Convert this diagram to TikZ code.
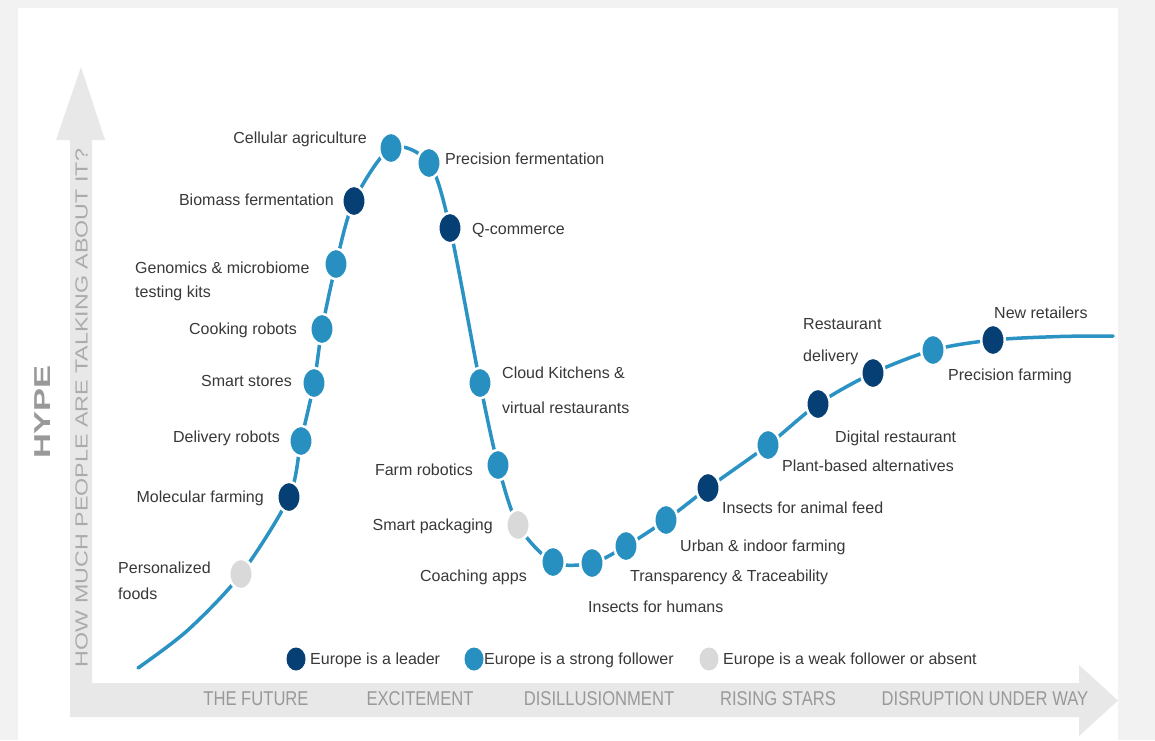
\documentclass[tikz,border=0pt]{standalone}
\usepackage{fontspec}
\setmainfont{Liberation Sans}
\newfontfamily\condfont[FakeStretch=0.83]{Liberation Sans}
\newfontfamily\widefont[FakeStretch=1.33]{Liberation Sans}
\newfontfamily\hypefont[FakeStretch=1.5]{Liberation Sans}
\usetikzlibrary{shapes.geometric}
\definecolor{bgout}{HTML}{F2F2F2}
\definecolor{axisgray}{HTML}{E8E8E8}
\definecolor{axtext}{HTML}{999999}
\definecolor{axtexttwo}{HTML}{ABABAB}
\definecolor{leadcol}{HTML}{053F73}
\definecolor{strongcol}{HTML}{2790C1}
\definecolor{weakcol}{HTML}{D9D9D9}
\definecolor{curvecol}{HTML}{2A93C4}
\definecolor{labelcol}{HTML}{383838}
\begin{document}
\begin{tikzpicture}[x=1pt,y=-1pt,
  hdot/.style={ellipse, minimum width=23.5pt, minimum height=30.5pt, inner sep=0pt, draw=white, line width=2.5pt},
  leaderdot/.style={hdot, fill=leadcol},
  strongdot/.style={hdot, fill=strongcol},
  weakdot/.style={hdot, fill=weakcol},
  legdot/.style={ellipse, minimum width=19pt, minimum height=23pt, inner sep=0pt},
  lbl/.style={font=\fontsize{16}{19}\selectfont, text=labelcol, inner sep=0pt, yshift=-3pt},
  lbltwo/.style={lbl, align=left, anchor=north west},
  phase/.style={font=\condfont\fontsize{20}{20}\selectfont, text=axtext, inner sep=0pt},
  curveline/.style={draw=curvecol, line width=3.5pt, line cap=round}
]
\useasboundingbox (0,0) rectangle (1155,740);
% background
\fill[bgout] (0,0) rectangle (1155,740);
\fill[white] (18,8) rectangle (1118,740);
% axes
\fill[axisgray] (70,717) -- (70,140) -- (56,140) -- (81,67) -- (105,140) -- (92,140)
  -- (92,683) -- (1079,683) -- (1079,665) -- (1118,700.5) -- (1079,736) -- (1079,717) -- cycle;
\node[rotate=90, font=\hypefont\bfseries\fontsize{23}{23}\selectfont, text=axtext, inner sep=0pt] (hype) at (43,412) {HYPE};
\node[rotate=90, font=\widefont\fontsize{17.5}{18}\selectfont, text=axtexttwo, inner sep=0pt] (ylab) at (81.5,408) {HOW MUCH PEOPLE ARE TALKING ABOUT IT?};
\node[phase] (ph1) at (256,699) {THE FUTURE};
\node[phase] (ph2) at (420,699) {EXCITEMENT};
\node[phase] (ph3) at (599,699) {DISILLUSIONMENT};
\node[phase] (ph4) at (778,699) {RISING STARS};
\node[phase] (ph5) at (985,699) {DISRUPTION UNDER WAY};
% curve points
\coordinate (s) at (138,668);
\coordinate (s2) at (188,630);
\coordinate (p1) at (241,574);
\coordinate (p2) at (289,497);
\coordinate (p3) at (301,441);
\coordinate (p4) at (314,383);
\coordinate (p5) at (322,329);
\coordinate (p6) at (336,264);
\coordinate (p7) at (354,201);
\coordinate (p8) at (391,148);
\coordinate (p9) at (429,163);
\coordinate (p10) at (450,228);
\coordinate (p11) at (480,383);
\coordinate (p12) at (498,465);
\coordinate (p13) at (518,525);
\coordinate (p14) at (553,562);
\coordinate (p15) at (592,563);
\coordinate (p16) at (626,546);
\coordinate (p17) at (666,520);
\coordinate (p18) at (708,488);
\coordinate (p19) at (768,445);
\coordinate (p20) at (818,404);
\coordinate (p21) at (873,373);
\coordinate (p22) at (933,350);
\coordinate (p23) at (993,340);
\coordinate (q) at (1060,336.5);
\coordinate (e) at (1113,336);
\draw[curveline] plot[smooth, tension=0.5] coordinates {(s) (s2) (p1) (p2) (p3) (p4) (p5) (p6) (p7) (p8) (p9) (p10) (p11) (p12) (p13) (p14) (p15) (p16) (p17) (p18) (p19) (p20) (p21) (p22) (p23) (q) (e)};
% dots
\node[weakdot] (n1) at (p1) {};
\node[leaderdot] (n2) at (p2) {};
\node[strongdot] (n3) at (p3) {};
\node[strongdot] (n4) at (p4) {};
\node[strongdot] (n5) at (p5) {};
\node[strongdot] (n6) at (p6) {};
\node[leaderdot] (n7) at (p7) {};
\node[strongdot] (n8) at (p8) {};
\node[strongdot] (n9) at (p9) {};
\node[leaderdot] (n10) at (p10) {};
\node[strongdot] (n11) at (p11) {};
\node[strongdot] (n12) at (p12) {};
\node[weakdot] (n13) at (p13) {};
\node[strongdot] (n14) at (p14) {};
\node[strongdot] (n15) at (p15) {};
\node[strongdot] (n16) at (p16) {};
\node[strongdot] (n17) at (p17) {};
\node[leaderdot] (n18) at (p18) {};
\node[strongdot] (n19) at (p19) {};
\node[leaderdot] (n20) at (p20) {};
\node[leaderdot] (n21) at (p21) {};
\node[strongdot] (n22) at (p22) {};
\node[leaderdot] (n23) at (p23) {};
% labels
\node[lbltwo, font=\fontsize{16}{26}\selectfont] (l1) at (118,558.3) {Personalized\\foods};
\node[lbl, anchor=mid east] (l2) at (264,497) {Molecular farming};
\node[lbl, anchor=mid east] (l3) at (280,437) {Delivery robots};
\node[lbl, anchor=mid east] (l4) at (292,381) {Smart stores};
\node[lbl, anchor=mid east] (l5) at (297,329) {Cooking robots};
\node[lbltwo, font=\fontsize{16}{24}\selectfont] (l6) at (135,258.5) {Genomics \& microbiome\\testing kits};
\node[lbl, anchor=mid east] (l7) at (334,200) {Biomass fermentation};
\node[lbl, anchor=mid east] (l8) at (367,138) {Cellular agriculture};
\node[lbl, anchor=mid west] (l9) at (445,159) {Precision fermentation};
\node[lbl, anchor=mid west] (l10) at (472,229) {Q-commerce};
\node[lbltwo, font=\fontsize{16}{35}\selectfont] (l11) at (502,363.3) {Cloud Kitchens \&\\virtual restaurants};
\node[lbl, anchor=mid east] (l12) at (473,470) {Farm robotics};
\node[lbl, anchor=mid east] (l13) at (493,525) {Smart packaging};
\node[lbl, anchor=mid east] (l14) at (527,576) {Coaching apps};
\node[lbl, anchor=mid west] (l15) at (588,607) {Insects for humans};
\node[lbl, anchor=mid west] (l16) at (630,576) {Transparency \& Traceability};
\node[lbl, anchor=mid west] (l17) at (680,546) {Urban \& indoor farming};
\node[lbl, anchor=mid west] (l18) at (722,508) {Insects for animal feed};
\node[lbl, anchor=mid west] (l19) at (782,466) {Plant-based alternatives};
\node[lbl, anchor=mid west] (l20) at (835,437) {Digital restaurant};
\node[lbltwo, font=\fontsize{16}{32}\selectfont] (l21) at (803,315.3) {Restaurant\\delivery};
\node[lbl, anchor=mid west] (l22) at (948,375) {Precision farming};
\node[lbl, anchor=mid west] (l23) at (994,313) {New retailers};
% legend
\node[legdot, fill=leadcol] (g1) at (296,659) {};
\node[lbl, anchor=mid west] (gt1) at (310,659) {Europe is a leader};
\node[legdot, fill=strongcol] (g2) at (474,659) {};
\node[lbl, anchor=mid west] (gt2) at (484,659) {Europe is a strong follower};
\node[legdot, fill=weakcol] (g3) at (709,659) {};
\node[lbl, anchor=mid west] (gt3) at (723,659) {Europe is a weak follower or absent};
\end{tikzpicture}
\end{document}
